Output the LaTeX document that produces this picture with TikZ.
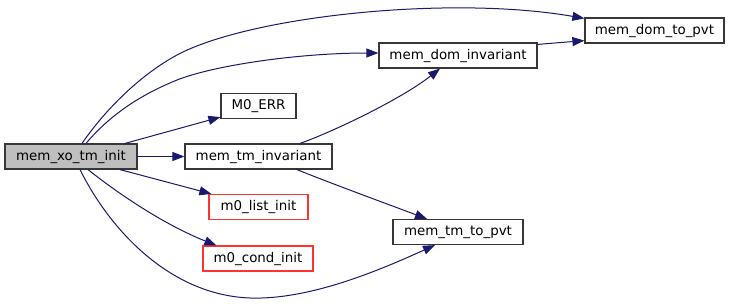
\documentclass[tikz,border=0pt]{standalone}
\usepackage{fontspec}
\setmainfont{DejaVu Sans}
\usetikzlibrary{arrows.meta}
\definecolor{edgeblue}{RGB}{25,25,112}
\definecolor{rootgray}{RGB}{191,191,191}
\definecolor{boxline}{RGB}{55,55,55}
\definecolor{missred}{RGB}{255,50,50}
\begin{document}
\begin{tikzpicture}[x=1pt,y=-1pt,
  fn/.style={draw=boxline, line width=1.2pt, fill=white, minimum height=25pt,
             inner sep=0pt, font=\fontsize{13.4}{16}\selectfont},
  rootfn/.style={fn, fill=rootgray},
  extfn/.style={fn, draw=missred},
  call/.style={draw=edgeblue, line width=1pt,
               -{Triangle[length=12pt,width=9pt]}}]
\useasboundingbox (0,0) rectangle (731,303);

% functions
\node[rootfn, minimum width=132pt] (xo)    at (71,156.5)  {mem\_xo\_tm\_init};
\node[fn,     minimum width=75pt]  (err)   at (258.5,106) {M0\_ERR};
\node[fn,     minimum width=147pt] (tmi)   at (258.5,156.5) {mem\_tm\_invariant};
\node[extfn,  minimum width=99pt]  (list)  at (258.5,207) {m0\_list\_init};
\node[extfn,  minimum width=110pt] (cond)  at (258,258.5) {m0\_cond\_init};
\node[fn,     minimum width=158pt] (dinv)  at (458,55.5)  {mem\_dom\_invariant};
\node[fn,     minimum width=139pt] (dpvt)  at (654.5,30.5) {mem\_dom\_to\_pvt};
\node[fn,     minimum width=130pt] (tpvt)  at (458,232)   {mem\_tm\_to\_pvt};

% calls from mem_xo_tm_init
\draw[call] ([xshift=11pt]xo.north) .. controls (105,110) and (140,75) .. (177,55)
            .. controls (250,16) and (450,-5) .. ([yshift=-1pt]dpvt.north west);
\draw[call] ([xshift=15pt]xo.north) .. controls (110,115) and (140,95) .. (177,80)
            .. controls (215,65) and (300,53) .. ([yshift=2.5pt]dinv.west);
\draw[call] ([xshift=54pt]xo.north) -- ([yshift=2pt]err.south west);
\draw[call] (xo.east) -- (tmi.west);
\draw[call] ([xshift=49pt]xo.south) -- ([xshift=3pt]list.north west);
\draw[call] ([xshift=17pt]xo.south) .. controls (120,195) and (165,225)
            .. ([xshift=14pt]cond.north west);
\draw[call] ([xshift=9pt]xo.south) .. controls (110,230) and (170,295) .. (250,298)
            .. controls (310,300) and (380,270) .. ([xshift=-23pt]tpvt.south);

% calls from mem_tm_invariant
\draw[call] ([xshift=41.5pt]tmi.north) .. controls (330,133) and (400,100)
            .. ([xshift=-18pt]dinv.south);
\draw[call] ([xshift=38.5pt]tmi.south) .. controls (330,183) and (390,205)
            .. ([xshift=-31pt]tpvt.north);

% call from mem_dom_invariant
\draw[call] ([yshift=-2pt]dinv.north east) -- ([yshift=3pt]dpvt.south west);
\end{tikzpicture}
\end{document}
